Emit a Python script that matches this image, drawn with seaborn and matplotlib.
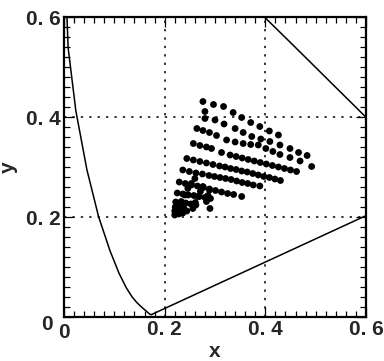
import numpy as np
import pandas as pd
import matplotlib
matplotlib.use("Agg")
import matplotlib.pyplot as plt
import matplotlib.transforms as mtransforms
from matplotlib.ticker import MultipleLocator, FixedLocator, FixedFormatter
import seaborn as sns

# CIE 1931 spectral locus (chromaticity x, y)
locus_x = [0.1741, 0.1733, 0.1714, 0.1689, 0.1644, 0.1566, 0.1510, 0.1440, 0.1355, 0.1241,
           0.1096, 0.0913, 0.0687, 0.0454, 0.0235, 0.0082, 0.0039, 0.0139, 0.0389,
           0.0743, 0.1142, 0.1547, 0.1929, 0.2296, 0.2658, 0.3016, 0.3373, 0.3731,
           0.4087, 0.4441, 0.4788, 0.5125, 0.5448, 0.5752, 0.6029, 0.6270, 0.6658,
           0.6915, 0.7190, 0.7347, 0.1741]
locus_y = [0.0050, 0.0048, 0.0051, 0.0069, 0.0109, 0.0177, 0.0227, 0.0297, 0.0399, 0.0578,
           0.0868, 0.1327, 0.2007, 0.2950, 0.4127, 0.5384, 0.6548, 0.7502, 0.8120,
           0.8338, 0.8262, 0.8059, 0.7816, 0.7543, 0.7243, 0.6923, 0.6589, 0.6245,
           0.5896, 0.5547, 0.5202, 0.4866, 0.4544, 0.4242, 0.3965, 0.3725, 0.3340,
           0.3083, 0.2809, 0.2653, 0.0050]

# measured chromaticity points, row by row
row1_x = [0.276, 0.297, 0.317, 0.336, 0.353, 0.371, 0.389, 0.408, 0.426]
row1_y = [0.431, 0.425, 0.421, 0.409, 0.399, 0.389, 0.381, 0.372, 0.364]
row2_x = [0.280, 0.280, 0.300, 0.318, 0.340, 0.356, 0.373, 0.391, 0.409, 0.429, 0.449, 0.466, 0.483]
row2_y = [0.411, 0.397, 0.394, 0.386, 0.377, 0.369, 0.361, 0.356, 0.351, 0.344, 0.337, 0.329, 0.323]
row3_x = [0.264, 0.276, 0.289, 0.303, 0.323, 0.340, 0.356, 0.371, 0.386, 0.401, 0.415, 0.429, 0.449, 0.469, 0.492]
row3_y = [0.377, 0.373, 0.369, 0.363, 0.354, 0.350, 0.347, 0.345, 0.344, 0.337, 0.331, 0.325, 0.319, 0.312, 0.301]
row4_x = [0.257, 0.270, 0.283, 0.293, 0.313, 0.330, 0.342, 0.354, 0.366, 0.378, 0.390, 0.402, 0.414, 0.426, 0.438, 0.450, 0.462]
row4_y = [0.347, 0.343, 0.340, 0.337, 0.329, 0.324, 0.321, 0.318, 0.315, 0.312, 0.309, 0.306, 0.303, 0.300, 0.297, 0.294, 0.291]
row5_x = [0.244, 0.257, 0.270, 0.283, 0.296, 0.309, 0.320, 0.331, 0.342, 0.353, 0.364, 0.375, 0.386, 0.397, 0.408, 0.419, 0.430]
row5_y = [0.317, 0.314, 0.311, 0.308, 0.305, 0.302, 0.300, 0.297, 0.295, 0.292, 0.290, 0.287, 0.284, 0.281, 0.279, 0.276, 0.273]
row6_x = [0.236, 0.249, 0.262, 0.275, 0.288, 0.299, 0.310, 0.321, 0.332, 0.343, 0.354, 0.365, 0.376, 0.389]
row6_y = [0.294, 0.291, 0.288, 0.286, 0.283, 0.281, 0.279, 0.277, 0.275, 0.272, 0.269, 0.267, 0.264, 0.262]
row7_x = [0.229, 0.241, 0.253, 0.265, 0.277, 0.289, 0.301, 0.313, 0.325, 0.337, 0.353]
row7_y = [0.270, 0.267, 0.264, 0.262, 0.259, 0.256, 0.253, 0.250, 0.247, 0.245, 0.241]
row8_x = [0.225, 0.236, 0.247, 0.258, 0.269, 0.280, 0.291]
row8_y = [0.248, 0.246, 0.244, 0.243, 0.241, 0.239, 0.237]
row9_x = [0.222, 0.232, 0.242, 0.252, 0.262, 0.290]
row9_y = [0.230, 0.229, 0.228, 0.226, 0.224, 0.217]
row10_x = [0.220, 0.226, 0.232, 0.221, 0.228, 0.235, 0.228, 0.236, 0.244, 0.238]
row10_y = [0.212, 0.212, 0.214, 0.220, 0.220, 0.222, 0.206, 0.208, 0.212, 0.218]
row11_x = [0.220, 0.226, 0.233, 0.240, 0.246, 0.253, 0.260, 0.256, 0.261, 0.266, 0.271,
           0.276, 0.283, 0.286, 0.289]
row11_y = [0.204, 0.218, 0.231, 0.244, 0.257, 0.267, 0.277, 0.217, 0.229, 0.241, 0.251,
           0.261, 0.231, 0.243, 0.254]

tick_vals = [0.0, 0.2, 0.4, 0.6]
tick_labels = ["0", "0. 2", "0. 4", "0. 6"]

pts = pd.DataFrame({
    "x": row1_x + row2_x + row3_x + row4_x + row5_x + row6_x + row7_x + row8_x + row9_x + row10_x + row11_x,
    "y": row1_y + row2_y + row3_y + row4_y + row5_y + row6_y + row7_y + row8_y + row9_y + row10_y + row11_y,
})
loc = pd.DataFrame({"x": locus_x, "y": locus_y})

sns.set_theme(style="white")
plt.rcParams["font.family"] = ["Liberation Sans", "DejaVu Sans"]

fig = plt.figure(figsize=(3.84, 3.61), dpi=100)
ax = fig.add_axes([64 / 384, 1 - 317 / 361, 302 / 384, 300 / 361])

sns.lineplot(data=loc, x="x", y="y", sort=False, estimator=None, color="black",
             linewidth=1.1, ax=ax)
sns.scatterplot(data=pts, x="x", y="y", color="black", s=24, edgecolor="none", ax=ax)

ax.set_xlim(0, 0.6)
ax.set_ylim(0, 0.6)

ax.xaxis.set_major_locator(FixedLocator(tick_vals))
ax.yaxis.set_major_locator(FixedLocator(tick_vals))
ax.xaxis.set_major_formatter(FixedFormatter(tick_labels))
ax.yaxis.set_major_formatter(FixedFormatter(tick_labels))
ax.xaxis.set_minor_locator(MultipleLocator(0.02))
ax.yaxis.set_minor_locator(MultipleLocator(0.02))

ax.tick_params(which="both", direction="in", top=True, right=True, bottom=True, left=True,
               color="black", width=0.9)
ax.tick_params(which="major", length=7, labelsize=15, pad=2)
ax.tick_params(which="minor", length=4.5)
for lab in ax.get_xticklabels() + ax.get_yticklabels():
    lab.set_fontweight("bold")

ax.grid(True, which="major", color="black", linestyle=(0, (1.5, 4)), linewidth=1.1)
for sp in ax.spines.values():
    sp.set_visible(True)
    sp.set_color("black")
    sp.set_linewidth(1.6)

# offset the origin labels like the reference
ylab0 = ax.get_yticklabels()[0]
ylab0.set_transform(ylab0.get_transform() + mtransforms.ScaledTranslation(-8 / 100, -5 / 100, fig.dpi_scale_trans))
xlab0 = ax.get_xticklabels()[0]
xlab0.set_transform(xlab0.get_transform() + mtransforms.ScaledTranslation(0, -3 / 100, fig.dpi_scale_trans))

ax.set_xlabel("x", fontsize=15, fontweight="bold", labelpad=0)
ax.set_ylabel("y", fontsize=15, fontweight="bold", labelpad=6)

fig.savefig("out.png", dpi=100)
